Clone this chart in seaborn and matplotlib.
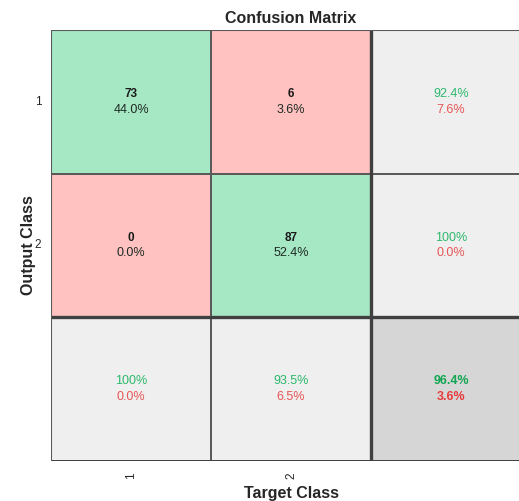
import numpy as np
import matplotlib
matplotlib.use("Agg")
import matplotlib.pyplot as plt
from matplotlib.colors import ListedColormap
import seaborn as sns

# confusion matrix counts (rows = output class, cols = target class)
classes = ["1", "2"]
counts = [[73, 6],
          [0, 87]]

sns.set_style("white")
plt.rcParams['font.family'] = ['Liberation Sans', 'DejaVu Sans']

cm = np.array(counts, dtype=float)
total = cm.sum()
n = len(classes)

# colour codes: 0 = correct, 1 = wrong, 2 = summary, 3 = overall
codes = np.full((n + 1, n + 1), 2)
for i in range(n):
    for j in range(n):
        codes[i, j] = 0 if i == j else 1
codes[n, n] = 3

cmap = ListedColormap(["#A6E7C4", "#FFC2C0", "#EFEFEF", "#D6D6D6"])


def fmt(p):
    return "100%" if round(p, 1) == 100 else f"{p:.1f}%"


fig = plt.figure(figsize=(5.19, 5.01), dpi=100)
ax = fig.add_axes([51 / 519, 40 / 501, 480 / 519, 431 / 501])

sns.heatmap(codes, cmap=cmap, vmin=-0.5, vmax=3.5, cbar=False,
            linewidths=1.2, linecolor="#5a5a5a", ax=ax, square=False)

green = "#2DB86C"
red = "#E85555"
for i in range(n):
    for j in range(n):
        ax.text(j + 0.5, i + 0.445, f"{int(cm[i, j])}", ha="center", va="center",
                fontsize=8.5, fontweight="bold", color="#1a1a1a")
        ax.text(j + 0.5, i + 0.555, fmt(100 * cm[i, j] / total), ha="center",
                va="center", fontsize=9, color="#1f2a24")
    # row summary
    p = 100 * cm[i, i] / cm[i].sum()
    ax.text(n + 0.5, i + 0.445, fmt(p), ha="center", va="center", fontsize=9, color=green)
    ax.text(n + 0.5, i + 0.555, fmt(100 - p), ha="center", va="center", fontsize=9, color=red)
for j in range(n):
    p = 100 * cm[j, j] / cm[:, j].sum()
    ax.text(j + 0.5, n + 0.445, fmt(p), ha="center", va="center", fontsize=9, color=green)
    ax.text(j + 0.5, n + 0.555, fmt(100 - p), ha="center", va="center", fontsize=9, color=red)
acc = 100 * np.trace(cm) / total
ax.text(n + 0.5, n + 0.445, fmt(acc), ha="center", va="center", fontsize=9,
        fontweight="bold", color="#12A552")
ax.text(n + 0.5, n + 0.555, fmt(100 - acc), ha="center", va="center", fontsize=9,
        fontweight="bold", color="#E83A3A")

# heavier separators around summary row/column
ax.axhline(n, color="#404040", lw=2.4)
ax.axvline(n, color="#404040", lw=2.4)
ax.axhline(0, color="#5a5a5a", lw=1.5)
ax.axhline(n + 1, color="#404040", lw=2.0)
ax.axvline(0, color="#5a5a5a", lw=1.5)

ax.set_xticks(np.arange(n) + 0.5)
ax.set_xticklabels(classes, rotation=90, fontsize=8.5)
ax.set_yticks(np.arange(n) + 0.5)
ax.set_yticklabels(classes, rotation=0, fontsize=8.5)
ax.tick_params(axis="y", length=0, pad=7)
ax.tick_params(axis="x", length=0, pad=8)

ax.set_title("Confusion Matrix", fontsize=11.5, fontweight="bold", pad=5)
ax.set_xlabel("Target Class", fontsize=11.5, fontweight="bold", labelpad=5)
ax.set_ylabel("Output Class", fontsize=11.5, fontweight="bold", labelpad=-1)

fig.savefig("out.png", dpi=100)
